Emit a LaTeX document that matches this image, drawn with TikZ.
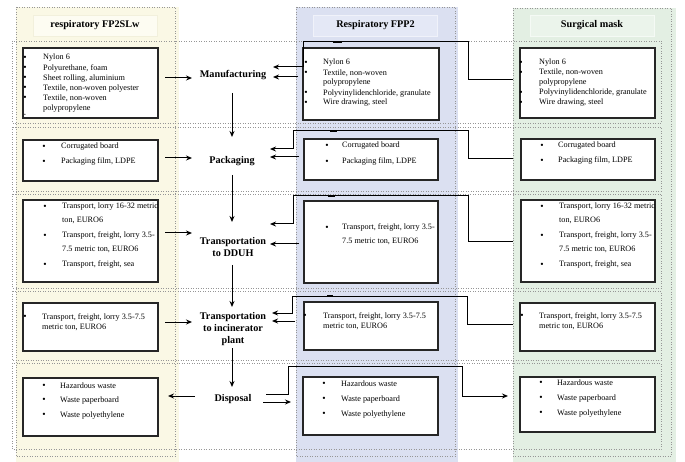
\documentclass[tikz,border=0pt]{standalone}
\usepackage{fontspec}
\setmainfont{Liberation Serif}
\usetikzlibrary{arrows.meta}
\definecolor{colY}{RGB}{250,248,229}
\definecolor{colYt}{RGB}{253,252,242}
\definecolor{colYb}{RGB}{242,240,220}
\definecolor{colB}{RGB}{219,224,241}
\definecolor{colBt}{RGB}{228,232,246}
\definecolor{colBb}{RGB}{240,242,250}
\definecolor{colG}{RGB}{227,239,227}
\definecolor{colGt}{RGB}{235,244,235}
\definecolor{colGb}{RGB}{245,250,245}
\definecolor{dotg}{RGB}{150,150,150}
\newcounter{tn}
\newcommand{\tline}[3]{\stepcounter{tn}\node[txt] (t\arabic{tn}) at (#1,#2) {#3};}
\newcommand{\bull}[2]{\stepcounter{tn}\node[bul] (t\arabic{tn}) at (#1,#2) {•};}
\newcommand{\ibx}[5]{\node[ibox,minimum width=#4pt-#2pt,minimum height=#5pt-#3pt] (#1) at ({(#2+#4)/2},{(#3+#5)/2}) {};}
\begin{document}
\begin{tikzpicture}[x=1pt,y=-1pt,
  txt/.style={anchor=west,inner sep=0pt,text height=6pt,text depth=2pt,font=\fontsize{8.2}{9.8}\selectfont},
  bul/.style={anchor=center,inner sep=0pt,text height=6.5pt,text depth=2pt,font=\fontsize{9.5}{9.8}\selectfont},
  ibox/.style={draw=black!85,line width=1.2pt,fill=white,inner sep=0pt,outer sep=0pt},
  clab/.style={font=\bfseries\fontsize{10.2}{12.3}\selectfont,align=center,inner sep=1pt},
  ttl/.style={font=\bfseries\fontsize{10.2}{12}\selectfont,line width=0.8pt,inner sep=0pt,minimum width=124pt,minimum height=21pt},
  band/.style={draw=dotg,dotted,line width=0.5pt},
  arr/.style={line width=1pt,-{Stealth[length=6pt,width=5pt]}},
  cn/.style={line width=1pt},
  blob/.style={line width=2.2pt},
]
\useasboundingbox (0,0) rectangle (685,462);
% columns
\fill[colY] (16,7) rectangle (179,462);
\fill[colB] (296,7) rectangle (458,462);
\fill[colG] (513,8) rectangle (676,462);
\draw[band] (16,7) rectangle (175,456);
\draw[band] (296,7) rectangle (455,456);
\draw[band] (513,8) rectangle (671,456);
\node[ttl,fill=colYt,draw=colYb] (TY) at (95,25.5) {respiratory FP2SLw};
\node[ttl,fill=colBt,draw=colBb] (TB) at (375.5,25.5) {Respiratory FPP2};
\node[ttl,fill=colGt,draw=colGb] (TG) at (592,25.5) {Surgical mask};
% row bands
\draw[band] (12,41) rectangle (661,123);
\draw[band] (12,127) rectangle (661,191);
\draw[band] (12,194) rectangle (661,288);
\draw[band] (12,291) rectangle (661,360);
\draw[band] (12,363) rectangle (661,449);
% inner boxes
\ibx{L1}{23}{48}{158}{118}
\ibx{L2}{23}{140}{158}{181}
\ibx{L3}{23}{200}{158}{282}
\ibx{L4}{23}{303}{158}{351}
\ibx{L5}{23}{378}{158}{436}
\ibx{M1}{303}{48}{439}{120}
\ibx{M2}{304}{139}{438}{180}
\ibx{M3}{304}{201}{438}{283}
\ibx{M4}{304}{302}{438}{350}
\ibx{M5}{303}{377}{438}{435}
\ibx{R1}{520}{48}{655}{118}
\ibx{R2}{521}{139}{655}{180}
\ibx{R3}{521}{200}{655}{282}
\ibx{R4}{520}{303}{655}{351}
\ibx{R5}{520}{377}{655}{432}
% left texts
\bull{25}{58}\tline{43}{58}{Nylon 6}
\bull{25}{68}\tline{43}{69}{Polyurethane, foam}
\bull{25}{78}\tline{43}{79}{Sheet rolling, aluminium}
\bull{25}{88}\tline{43}{89}{Textile, non-woven polyester}
\bull{25}{98}\tline{43}{99}{Textile, non-woven}
\tline{43}{109}{polypropylene}
\stepcounter{tn}\node[bul,font=\fontsize{5}{5}\selectfont] (t\arabic{tn}) at (25,114) {•};
\bull{44}{147}\tline{61}{147}{Corrugated board}
\bull{44}{162}\tline{61}{162}{Packaging film, LDPE}
\bull{45}{207}\tline{62}{207}{Transport, lorry 16-32 metric}
\tline{62}{221}{ton, EURO6}
\bull{45}{236}\tline{62}{236}{Transport, freight, lorry 3.5-}
\tline{62}{250}{7.5 metric ton, EURO6}
\bull{45}{265}\tline{62}{265}{Transport, freight, sea}
\bull{25}{317}\tline{42}{317}{Transport, freight, lorry 3.5-7.5}
\tline{42}{327}{metric ton, EURO6}
\bull{44}{386}\tline{60}{386}{Hazardous waste}
\bull{44}{400}\tline{60}{400}{Waste paperboard}
\bull{44}{415}\tline{60}{415}{Waste polyethylene}
% middle texts
\bull{306}{63}\tline{323}{63}{Nylon 6}
\bull{306}{73}\tline{323}{74}{Textile, non-woven}
\tline{323}{83}{polypropylene}
\bull{306}{93}\tline{323}{94}{Polyvinylidenchloride, granulate}
\bull{306}{103}\tline{323}{103}{Wire drawing, steel}
\bull{327}{146}\tline{342}{146}{Corrugated board}
\bull{327}{162}\tline{342}{162}{Packaging film, LDPE}
\bull{327}{228}\tline{342}{228}{Transport, freight, lorry 3.5-}
\tline{342}{242}{7.5 metric ton, EURO6}
\bull{305}{316}\tline{323}{316}{Transport, freight, lorry 3.5-7.5}
\tline{323}{326}{metric ton, EURO6}
\bull{324}{384}\tline{341}{384}{Hazardous waste}
\bull{324}{399}\tline{341}{399}{Waste paperboard}
\bull{324}{414}\tline{341}{414}{Waste polyethylene}
% right texts
\bull{521}{63}\tline{539}{63}{Nylon 6}
\bull{521}{73}\tline{539}{73}{Textile, non-woven}
\tline{539}{83}{polypropylene}
\bull{521}{93}\tline{539}{93}{Polyvinylidenchloride, granulate}
\bull{521}{103}\tline{539}{103}{Wire drawing, steel}
\bull{542}{146}\tline{558}{146}{Corrugated board}
\bull{542}{161}\tline{558}{161}{Packaging film, LDPE}
\bull{542}{207}\tline{559}{207}{Transport, lorry 16-32 metric}
\tline{559}{221}{ton, EURO6}
\bull{542}{236}\tline{559}{236}{Transport, freight, lorry 3.5-}
\tline{559}{250}{7.5 metric ton, EURO6}
\bull{542}{265}\tline{559}{265}{Transport, freight, sea}
\bull{522}{316}\tline{539}{316}{Transport, freight, lorry 3.5-7.5}
\tline{539}{326}{metric ton, EURO6}
\bull{541}{383}\tline{557}{383}{Hazardous waste}
\bull{541}{398}\tline{557}{398}{Waste paperboard}
\bull{541}{413}\tline{557}{413}{Waste polyethylene}
% centre labels
\node[clab] (C1) at (233,75) {Manufacturing};
\node[clab] (C2) at (232,161) {Packaging};
\node[clab] (C3) at (233,247) {Transportation\\to DDUH};
\node[clab] (C4) at (233,329) {Transportation\\to incinerator\\plant};
\node[clab] (C5) at (233,399) {Disposal};
% vertical flow
\coordinate (v1a) at (232,93);  \coordinate (v1b) at (232,137);
\coordinate (v2a) at (232,175); \coordinate (v2b) at (232,222);
\coordinate (v3a) at (232,265); \coordinate (v3b) at (232,307);
\coordinate (v4a) at (232,348); \coordinate (v4b) at (232,387);
\draw[arr] (v1a) -- (v1b);
\draw[arr] (v2a) -- (v2b);
\draw[arr] (v3a) -- (v3b);
\draw[arr] (v4a) -- (v4b);
% left column into centre
\coordinate (l1a) at (165,78);  \coordinate (l1b) at (192,78);
\coordinate (l2a) at (165,158); \coordinate (l2b) at (192,158);
\coordinate (l3a) at (165,233); \coordinate (l3b) at (192,233);
\coordinate (l4a) at (165,322); \coordinate (l4b) at (192,322);
\coordinate (l5a) at (195,396); \coordinate (l5b) at (168,396);
\draw[arr] (l1a) -- (l1b);
\draw[arr] (l2a) -- (l2b);
\draw[arr] (l3a) -- (l3b);
\draw[arr] (l4a) -- (l4b);
\draw[arr] (l5a) -- (l5b);
% right column into centre
\coordinate (r1a) at (513,80);  \coordinate (r1b) at (273,67);
\coordinate (r2a) at (513,159); \coordinate (r2b) at (270,149);
\coordinate (r3a) at (513,242); \coordinate (r3b) at (270,224);
\coordinate (r4a) at (513,324); \coordinate (r4b) at (272,313);
\draw[arr] (r1a) -- (468,80) -- (468,42) -- (303,42) -- (303,67) -- (r1b);
\draw[arr] (r2a) -- (468,159) -- (468,131) -- (293,131) -- (293,149) -- (r2b);
\draw[arr] (r3a) -- (468,242) -- (468,196) -- (293,196) -- (293,224) -- (r3b);
\draw[arr] (r4a) -- (467,324) -- (467,296) -- (292,296) -- (292,313) -- (r4b);
\draw[blob] (333,42) -- (342,42);
\draw[blob] (330,131) -- (337,131);
\draw[blob] (328,196) -- (335,196);
\draw[blob] (327,296) -- (333,296);
% middle column into centre
\coordinate (m1a) at (298,77);  \coordinate (m1b) at (273,77);
\coordinate (m2a) at (299,157); \coordinate (m2b) at (270,157);
\coordinate (m3a) at (299,244); \coordinate (m3b) at (270,244);
\coordinate (m4a) at (295,321); \coordinate (m4b) at (272,321);
\draw[arr] (m1a) -- (m1b);
\draw[arr] (m2a) -- (m2b);
\draw[arr] (m3a) -- (m3b);
\draw[arr] (m4a) -- (m4b);
% disposal outputs
\coordinate (d1a) at (266,394); \coordinate (d1b) at (508,396);
\coordinate (d2a) at (263,402); \coordinate (d2b) at (291,402);
\draw[arr] (d1a) -- (288,394) -- (288,366) -- (462,366) -- (462,396) -- (d1b);
\draw[arr] (d2a) -- (d2b);
\end{tikzpicture}
\end{document}
